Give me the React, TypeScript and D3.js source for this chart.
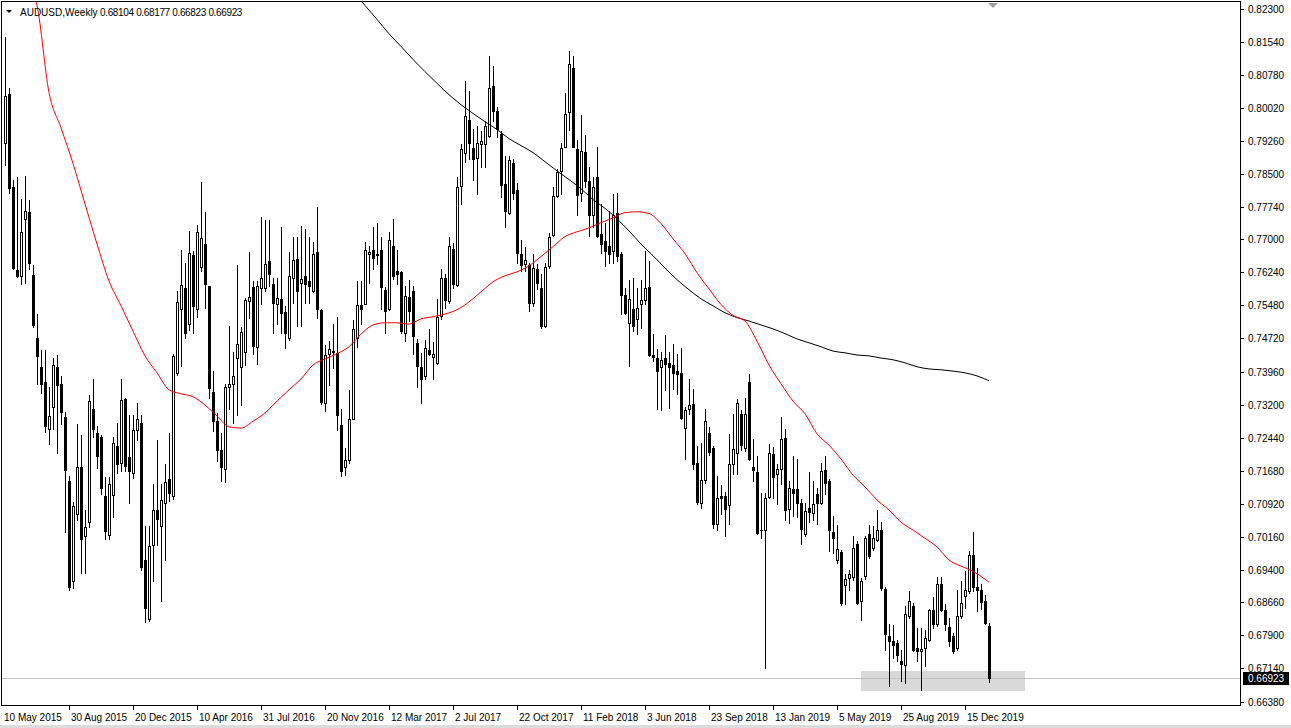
import React from "react";
import * as d3 from "d3";

const symbolTitle = "AUDUSD,Weekly";
const lastQuote = ["0.68104", "0.68177", "0.66823", "0.66923"];
const bidPrice = 0.66923;
const firstWeek = "2015-05-10";

// weekly candles: [open, high, low, close]
const weeks2015 = [
  [0.7921, 0.8165, 0.787, 0.8028], [0.8033, 0.8048, 0.7806, 0.7817], [0.782, 0.7837, 0.7632, 0.7634],
  [0.763, 0.7844, 0.7613, 0.7615], [0.7615, 0.7793, 0.7597, 0.7716], [0.7747, 0.7846, 0.7599, 0.7764],
  [0.7762, 0.7791, 0.7632, 0.7646], [0.7617, 0.7641, 0.7499, 0.7502], [0.7472, 0.7529, 0.7368, 0.7432],
  [0.7406, 0.7446, 0.7346, 0.7368], [0.7373, 0.7446, 0.7258, 0.7272], [0.7263, 0.7361, 0.7229, 0.7294],
  [0.7314, 0.7426, 0.7263, 0.7412], [0.7406, 0.7434, 0.721, 0.7364], [0.7368, 0.7386, 0.7276, 0.7302],
  [0.7291, 0.7302, 0.7027, 0.717], [0.7144, 0.7157, 0.6895, 0.69], [0.6915, 0.7096, 0.6898, 0.7087],
  [0.7069, 0.7276, 0.7056, 0.7177], [0.7177, 0.725, 0.6933, 0.7012], [0.7018, 0.7078, 0.6933, 0.7038],
  [0.705, 0.7342, 0.7038, 0.7329], [0.7311, 0.7379, 0.7245, 0.7263], [0.7254, 0.7272, 0.7175, 0.7201],
  [0.7245, 0.725, 0.7115, 0.7129], [0.7109, 0.7153, 0.7012, 0.703], [0.7021, 0.7153, 0.7012, 0.7138],
  [0.7113, 0.7245, 0.7062, 0.7231], [0.7225, 0.7277, 0.7163, 0.7184], [0.7186, 0.738, 0.7167, 0.733],
  [0.7334, 0.7336, 0.7167, 0.7179], [0.7199, 0.7297, 0.7093, 0.7167], [0.7163, 0.7297, 0.7152, 0.7261],
  [0.7261, 0.7323, 0.7238, 0.7288],
];
const weeks2016 = [
  [0.7277, 0.7297, 0.694, 0.6948], [0.6964, 0.7042, 0.682, 0.6853], [0.6827, 0.7042, 0.6822, 0.6995],
  [0.6998, 0.7138, 0.6914, 0.7077], [0.7077, 0.7238, 0.6998, 0.7058], [0.7041, 0.7138, 0.6868, 0.71],
  [0.7093, 0.7183, 0.6963, 0.7142], [0.7148, 0.7255, 0.7098, 0.7117], [0.7111, 0.7437, 0.7104, 0.7432],
  [0.7393, 0.758, 0.7388, 0.7556], [0.7539, 0.7676, 0.7409, 0.7594], [0.7589, 0.7646, 0.7472, 0.7485],
  [0.7505, 0.7719, 0.7492, 0.7669], [0.7664, 0.7673, 0.7485, 0.7547], [0.7539, 0.7733, 0.7522, 0.7716],
  [0.7637, 0.7831, 0.7627, 0.7702], [0.769, 0.7762, 0.7543, 0.7598], [0.7593, 0.7593, 0.7336, 0.7359],
  [0.7349, 0.7397, 0.7259, 0.7282], [0.7282, 0.73, 0.719, 0.7215], [0.7215, 0.7255, 0.7145, 0.7176],
  [0.7171, 0.7367, 0.7143, 0.736], [0.736, 0.7501, 0.7311, 0.7368], [0.7368, 0.7441, 0.7278, 0.7386],
  [0.7426, 0.7641, 0.7296, 0.7459], [0.7407, 0.7498, 0.732, 0.7487], [0.7442, 0.7564, 0.7411, 0.7561],
  [0.7557, 0.7671, 0.7518, 0.7568], [0.7591, 0.7604, 0.7437, 0.7455], [0.7453, 0.7603, 0.7413, 0.7593],
  [0.7589, 0.7752, 0.7551, 0.761], [0.7589, 0.7744, 0.758, 0.7643], [0.765, 0.7744, 0.7593, 0.762],
  [0.7597, 0.761, 0.7485, 0.7554], [0.7552, 0.761, 0.7505, 0.7564], [0.7562, 0.7728, 0.7485, 0.7531],
  [0.7533, 0.7546, 0.745, 0.7485], [0.7472, 0.7671, 0.7468, 0.7616], [0.761, 0.7705, 0.7554, 0.7652],
  [0.7654, 0.7705, 0.7501, 0.7581], [0.76, 0.7731, 0.7501, 0.7608], [0.7616, 0.7723, 0.7554, 0.7598],
  [0.7603, 0.7705, 0.7554, 0.7593], [0.7581, 0.7694, 0.7578, 0.7666], [0.7671, 0.7775, 0.752, 0.7539],
  [0.7537, 0.754, 0.7321, 0.7327], [0.7323, 0.7457, 0.7305, 0.7433], [0.7436, 0.7466, 0.7365, 0.7447],
  [0.744, 0.7505, 0.7405, 0.7443], [0.7439, 0.7521, 0.7261, 0.7296], [0.7274, 0.7309, 0.7156, 0.7167],
  [0.7176, 0.7221, 0.7158, 0.7192],
];
const weeks2017 = [
  [0.7192, 0.7353, 0.7186, 0.7288], [0.7288, 0.7514, 0.7286, 0.7493], [0.7474, 0.7604, 0.7452, 0.7549],
  [0.7549, 0.7604, 0.7505, 0.7539], [0.7552, 0.7693, 0.7551, 0.7675], [0.7667, 0.7685, 0.76, 0.7671],
  [0.7675, 0.7728, 0.7631, 0.7656], [0.7667, 0.7738, 0.7643, 0.7663], [0.7675, 0.7704, 0.7539, 0.759],
  [0.7583, 0.759, 0.7485, 0.7534], [0.7539, 0.7716, 0.7537, 0.7698], [0.7685, 0.7746, 0.7608, 0.7616],
  [0.7627, 0.7675, 0.7598, 0.7621], [0.7625, 0.7627, 0.7485, 0.7489], [0.7485, 0.7593, 0.7466, 0.7569],
  [0.7568, 0.7606, 0.7512, 0.7534], [0.7581, 0.7593, 0.7436, 0.7478], [0.7462, 0.747, 0.7361, 0.7409],
  [0.7407, 0.7439, 0.7324, 0.738], [0.7386, 0.7468, 0.7378, 0.7449], [0.7445, 0.7493, 0.7435, 0.7437],
  [0.743, 0.7465, 0.7378, 0.7437], [0.7416, 0.7562, 0.7413, 0.7522], [0.7524, 0.7631, 0.7516, 0.7612],
  [0.761, 0.7621, 0.7543, 0.756], [0.7558, 0.7705, 0.7554, 0.7685], [0.7677, 0.7692, 0.7589, 0.7597],
  [0.7594, 0.7842, 0.7593, 0.782], [0.7823, 0.7919, 0.7781, 0.7907], [0.7897, 0.8063, 0.7877, 0.7982],
  [0.7974, 0.804, 0.7884, 0.792], [0.7909, 0.7953, 0.7836, 0.7884], [0.7886, 0.7961, 0.7804, 0.7922],
  [0.7919, 0.7949, 0.7865, 0.7926], [0.7919, 0.7972, 0.7865, 0.7961], [0.7938, 0.8122, 0.7934, 0.8048],
  [0.8053, 0.8099, 0.7972, 0.7995], [0.7995, 0.8003, 0.7934, 0.7953], [0.7942, 0.7948, 0.7796, 0.7825],
  [0.7827, 0.7892, 0.7729, 0.7765], [0.7761, 0.7892, 0.7758, 0.7882], [0.7876, 0.7884, 0.7792, 0.7807],
  [0.7813, 0.783, 0.7646, 0.7669], [0.7666, 0.7698, 0.7627, 0.7641], [0.7644, 0.7681, 0.7627, 0.7652],
  [0.7641, 0.7646, 0.7534, 0.7554], [0.7554, 0.7666, 0.7547, 0.7635], [0.7631, 0.7644, 0.7585, 0.76],
  [0.7589, 0.762, 0.7497, 0.7501], [0.7501, 0.7646, 0.7498, 0.7636], [0.7639, 0.7715, 0.7635, 0.7704],
  [0.771, 0.7819, 0.7708, 0.78], [0.78, 0.7861, 0.7796, 0.7854],
];
const weeks2018 = [
  [0.7857, 0.7922, 0.7804, 0.7909], [0.7912, 0.8035, 0.7911, 0.7988], [0.7992, 0.8133, 0.7951, 0.8103],
  [0.8094, 0.8122, 0.7911, 0.7912], [0.7907, 0.7928, 0.7756, 0.7802], [0.7807, 0.7986, 0.7788, 0.7903],
  [0.7901, 0.794, 0.7819, 0.7834], [0.7834, 0.7865, 0.7708, 0.7756], [0.7756, 0.7843, 0.7727, 0.782],
  [0.7843, 0.7912, 0.7704, 0.7708], [0.7713, 0.7782, 0.7669, 0.7689], [0.7696, 0.7738, 0.7639, 0.7673],
  [0.7685, 0.7764, 0.7646, 0.7666], [0.7672, 0.7805, 0.7646, 0.7756], [0.7761, 0.7807, 0.765, 0.7662],
  [0.7666, 0.767, 0.7528, 0.7572], [0.7572, 0.7589, 0.7528, 0.7531], [0.7508, 0.7606, 0.7409, 0.7562],
  [0.7539, 0.7612, 0.7489, 0.7501], [0.7516, 0.7589, 0.7482, 0.7543], [0.7551, 0.7606, 0.7497, 0.756],
  [0.756, 0.7673, 0.7551, 0.7589], [0.759, 0.765, 0.7432, 0.7435], [0.7435, 0.7482, 0.742, 0.7429],
  [0.7428, 0.7447, 0.731, 0.7397], [0.7407, 0.744, 0.7307, 0.7422], [0.7427, 0.748, 0.7353, 0.7414],
  [0.7416, 0.744, 0.7313, 0.7407], [0.7411, 0.7459, 0.7355, 0.7393], [0.7397, 0.7437, 0.7345, 0.7391],
  [0.7393, 0.7449, 0.7286, 0.729], [0.7267, 0.7314, 0.7196, 0.7307], [0.7309, 0.7378, 0.7298, 0.7319],
  [0.7321, 0.7357, 0.7171, 0.7183], [0.7185, 0.7225, 0.7091, 0.7097], [0.7094, 0.7232, 0.7083, 0.7146],
  [0.7146, 0.7311, 0.714, 0.7282], [0.7255, 0.7268, 0.7204, 0.7212], [0.7221, 0.7225, 0.7037, 0.7045],
  [0.7046, 0.7156, 0.7033, 0.7106], [0.711, 0.7135, 0.7068, 0.7106], [0.711, 0.712, 0.7018, 0.7081],
  [0.7089, 0.7253, 0.7046, 0.7184], [0.7184, 0.7298, 0.7161, 0.7217], [0.7209, 0.7332, 0.716, 0.7324],
  [0.7299, 0.7307, 0.7215, 0.7227], [0.7221, 0.7336, 0.7213, 0.7299], [0.7373, 0.7391, 0.7192, 0.7194],
  [0.7177, 0.7242, 0.7144, 0.7169], [0.7166, 0.7202, 0.7022, 0.7025], [0.7033, 0.7117, 0.7014, 0.7031],
  [0.7033, 0.7117, 0.6715, 0.7106],
];
const weeks2019 = [
  [0.7107, 0.723, 0.7106, 0.7209], [0.7207, 0.7222, 0.7106, 0.7153], [0.716, 0.7183, 0.7091, 0.7171],
  [0.7171, 0.7292, 0.7137, 0.724], [0.7243, 0.7263, 0.7056, 0.7079], [0.7081, 0.7144, 0.7048, 0.7129],
  [0.7127, 0.7202, 0.7064, 0.7117], [0.7127, 0.7194, 0.7062, 0.7095], [0.7095, 0.7104, 0.6999, 0.7035],
  [0.7022, 0.7094, 0.7018, 0.7075], [0.7083, 0.7166, 0.7051, 0.7074], [0.7072, 0.7144, 0.7054, 0.7092],
  [0.7114, 0.7129, 0.7046, 0.7094], [0.7094, 0.7186, 0.7091, 0.7167], [0.7169, 0.7202, 0.7114, 0.7141],
  [0.7144, 0.715, 0.6983, 0.7033], [0.7028, 0.7064, 0.6979, 0.7014], [0.6962, 0.7043, 0.6956, 0.6989],
  [0.6982, 0.6985, 0.686, 0.6864], [0.6905, 0.6931, 0.6861, 0.692], [0.6922, 0.6939, 0.6893, 0.6931],
  [0.6923, 0.7018, 0.6916, 0.6991], [0.7, 0.7006, 0.6861, 0.6864], [0.6868, 0.6922, 0.6826, 0.6914],
  [0.6926, 0.7018, 0.692, 0.7014], [0.7023, 0.7043, 0.6968, 0.6972], [0.6991, 0.7041, 0.6987, 0.7014],
  [0.701, 0.7077, 0.7006, 0.7033], [0.7033, 0.7051, 0.6895, 0.6899], [0.6897, 0.69, 0.6757, 0.6792],
  [0.6788, 0.6816, 0.6673, 0.6776], [0.6776, 0.6813, 0.6738, 0.6767], [0.6772, 0.678, 0.673, 0.6744],
  [0.6732, 0.6757, 0.6684, 0.6724], [0.6721, 0.6857, 0.668, 0.6838], [0.6834, 0.6891, 0.683, 0.687],
  [0.6857, 0.6865, 0.6753, 0.6757], [0.6762, 0.6807, 0.6732, 0.6755], [0.6755, 0.6807, 0.6665, 0.6759],
  [0.6761, 0.6803, 0.6719, 0.6784], [0.678, 0.6851, 0.6776, 0.6849], [0.6849, 0.6877, 0.6807, 0.6815],
  [0.6815, 0.6924, 0.6811, 0.6908], [0.6908, 0.6924, 0.6845, 0.6849], [0.6849, 0.6861, 0.6803, 0.6815],
  [0.6808, 0.683, 0.6765, 0.6776], [0.6788, 0.6795, 0.6749, 0.6753], [0.6761, 0.6895, 0.6757, 0.6834],
  [0.6834, 0.6914, 0.683, 0.6864], [0.688, 0.6937, 0.6853, 0.6893], [0.6891, 0.6983, 0.6888, 0.6974],
  [0.6974, 0.7028, 0.6891, 0.69],
];
const weeks2020 = [
  [0.69, 0.6945, 0.6845, 0.6893], [0.6893, 0.6907, 0.685, 0.6867], [0.6868, 0.6883, 0.6816, 0.6818],
  [0.68104, 0.68177, 0.66823, 0.66923],
];

// moving averages: [bar index, value]
const maRed = [
  [7, 0.8271], [8, 0.8237], [11, 0.8037], [14, 0.7956], [17, 0.7874], [20, 0.7781], [23, 0.7689],
  [26, 0.7604], [29, 0.7547], [32, 0.7489], [35, 0.7432], [38, 0.7393], [41, 0.7354], [44, 0.7345],
  [47, 0.7338], [50, 0.7319], [53, 0.7294], [56, 0.7269], [59, 0.7266], [62, 0.7282], [65, 0.7301],
  [68, 0.7328], [71, 0.7354], [74, 0.7379], [77, 0.7411], [80, 0.7425], [83, 0.7437], [86, 0.7453],
  [89, 0.7482], [92, 0.7503], [95, 0.7508], [98, 0.7508], [101, 0.7505], [104, 0.7517], [107, 0.7522],
  [110, 0.7528], [113, 0.7538], [116, 0.7556], [119, 0.7579], [122, 0.7602], [125, 0.7616], [128, 0.7625],
  [131, 0.7639], [134, 0.766], [137, 0.7683], [140, 0.7706], [143, 0.7717], [146, 0.7726], [149, 0.7738],
  [152, 0.7749], [155, 0.7761], [158, 0.7763], [161, 0.7759], [164, 0.7736], [167, 0.7701], [170, 0.7667],
  [173, 0.7623], [176, 0.7586], [179, 0.755], [182, 0.7525], [185, 0.7512], [188, 0.7466], [191, 0.7411],
  [194, 0.7368], [197, 0.7328], [200, 0.7299], [203, 0.7253], [206, 0.7227], [209, 0.7195], [212, 0.7158],
  [215, 0.7131], [218, 0.7101], [221, 0.7078], [224, 0.705], [227, 0.7032], [230, 0.7013], [233, 0.6993],
  [236, 0.6963], [239, 0.6949], [242, 0.6937], [245, 0.6919], [246, 0.6912],
];
const maBlack = [
  [88, 0.826], [90, 0.8237], [93, 0.8205], [96, 0.8172], [99, 0.8143], [102, 0.8113], [105, 0.8085],
  [108, 0.8058], [111, 0.8032], [114, 0.8009], [117, 0.7989], [120, 0.797], [123, 0.7952], [126, 0.7931],
  [129, 0.7915], [132, 0.7899], [135, 0.7878], [138, 0.7857], [141, 0.7837], [144, 0.7816], [147, 0.7791],
  [150, 0.7771], [153, 0.7747], [156, 0.7719], [159, 0.7689], [162, 0.7662], [165, 0.7634], [168, 0.7607],
  [171, 0.7584], [174, 0.7563], [177, 0.7547], [180, 0.7531], [183, 0.752], [186, 0.7512], [189, 0.7503],
  [192, 0.7494], [195, 0.7483], [198, 0.7471], [201, 0.7462], [204, 0.7453], [207, 0.7443], [210, 0.7439],
  [213, 0.7434], [216, 0.7432], [219, 0.7427], [222, 0.7423], [225, 0.7416], [228, 0.7407], [231, 0.7402],
  [234, 0.74], [237, 0.7397], [240, 0.7393], [243, 0.7386], [246, 0.7375],
];

const priceTicks = [
  "0.82300", "0.81540", "0.80780", "0.80020", "0.79260", "0.78500", "0.77740", "0.77000", "0.76240",
  "0.75480", "0.74720", "0.73960", "0.73200", "0.72440", "0.71680", "0.70920", "0.70160", "0.69400",
  "0.68660", "0.67900", "0.67140", "0.66380",
];
const dateTicks = [
  "2015-05-10", "2015-08-30", "2015-12-20", "2016-04-10", "2016-07-31", "2016-11-20", "2017-03-12",
  "2017-07-02", "2017-10-22", "2018-02-11", "2018-06-03", "2018-09-23", "2019-01-13", "2019-05-05",
  "2019-08-25", "2019-12-15",
];
const zoneBars = [214, 255];
const zonePrices = [0.6708, 0.6663];

const FONT = "'Liberation Sans', Arial, sans-serif";

export default function App() {
  const candles = [...weeks2015, ...weeks2016, ...weeks2017, ...weeks2018, ...weeks2019, ...weeks2020];
  const W = 1291, H = 728;
  const L = 2, T = 2, R = 1240, B = 705;
  const xs = d3.scaleLinear().domain([0, candles.length - 1]).range([5, 989]);
  const ys = d3.scaleLinear().domain([0.6638, 0.823]).range([701.5, 8.5]);
  const px = (i: number) => Math.round(xs(i));
  const py = (v: number) => Math.round(ys(v));
  const t0 = new Date(firstWeek).getTime();
  const weekIdx = (s: string) => Math.round((new Date(s).getTime() - t0) / (7 * 864e5));
  const fmt = d3.utcFormat("%-d %b %Y");

  const line = d3
    .line<number[]>()
    .x((d) => xs(d[0]))
    .y((d) => ys(d[1]))
    .curve(d3.curveMonotoneX);

  const bidY = py(bidPrice) + 0.5;

  return (
    <svg
      width={W}
      height={H}
      style={{ position: "absolute", left: 0, top: 0, background: "#fff" }}
      fontFamily={FONT}
    >
      <defs>
        <clipPath id="plot">
          <rect x={L} y={T} width={R - L} height={B - T} />
        </clipPath>
      </defs>
      <rect x={0} y={0} width={W} height={H} fill="#fff" />
      <rect x={0} y={H - 3} width={W} height={3} fill="#dcdcdc" />

      <g clipPath="url(#plot)">
        {/* zone rectangle */}
        <rect
          x={px(zoneBars[0])}
          y={py(zonePrices[0])}
          width={px(zoneBars[1]) - px(zoneBars[0])}
          height={py(zonePrices[1]) - py(zonePrices[0])}
          fill="#d9d9d9"
        />
        {/* bid line */}
        <line x1={L} x2={R} y1={bidY} y2={bidY} stroke="#c0c0c0" strokeWidth={1} />

        {/* candles */}
        <g shapeRendering="crispEdges">
          {candles.map((c, i) => {
            const [o, h, l, cl] = c;
            const cx = px(i);
            const yh = py(h), yl = py(l);
            const yt = py(Math.max(o, cl)), yb = py(Math.min(o, cl));
            const bull = cl >= o;
            return (
              <g key={i}>
                <line x1={cx + 0.5} x2={cx + 0.5} y1={yh} y2={yl + 1} stroke="#000" strokeWidth={1} />
                {bull ? (
                  yb - yt >= 1 ? (
                    <rect x={cx - 0.5} y={yt + 0.5} width={2} height={yb - yt} fill="#fff" stroke="#000" strokeWidth={1} />
                  ) : (
                    <rect x={cx - 1} y={yt} width={3} height={1} fill="#000" />
                  )
                ) : (
                  <rect x={cx - 1} y={yt} width={3} height={Math.max(yb - yt + 1, 1)} fill="#000" />
                )}
              </g>
            );
          })}
        </g>

        {/* moving averages */}
        <path d={line(maBlack as any) || ""} fill="none" stroke="#000" strokeWidth={1} />
        <path d={line(maRed as any) || ""} fill="none" stroke="#ff0000" strokeWidth={1} />
      </g>

      {/* frame */}
      <rect x={L - 0.5} y={T - 0.5} width={R - L + 1} height={B - T + 1} fill="none" stroke="#000" strokeWidth={1} shapeRendering="crispEdges" />

      {/* shift marker */}
      <path d={`M${px(246) - 1},${T + 1}L${px(246) + 9},${T + 1}L${px(246) + 4},${T + 6}Z`} fill="#a0a0a0" />

      {/* header */}
      <path d="M6,10L12,10L9,13Z" fill="#000" />
      <text x={20} y={16} fontSize={10} fill="#000">
        {symbolTitle}
      </text>
      <text x={100} y={16} fontSize={10} fill="#000" letterSpacing={-0.35}>
        {lastQuote.join(" ")}
      </text>

      {/* price axis */}
      <g shapeRendering="crispEdges">
        {priceTicks.map((t) => {
          const y = py(+t) + 0.5;
          return (
            <g key={t}>
              <line x1={R} x2={R + 4} y1={y} y2={y} stroke="#000" />
              <text x={1248} y={y + 3.5} fontSize={10} fill="#000">
                {t}
              </text>
            </g>
          );
        })}
        <rect x={1243} y={py(bidPrice) - 6} width={46} height={13} fill="#000" />
        <text x={1248} y={py(bidPrice) + 4} fontSize={10} fill="#fff">
          {bidPrice.toFixed(5)}
        </text>
      </g>

      {/* time axis */}
      <g shapeRendering="crispEdges">
        {dateTicks.map((d, i) => {
          const k = weekIdx(d);
          const x = px(k);
          return (
            <g key={d}>
              {i > 0 && <line x1={x + 0.5} x2={x + 0.5} y1={B} y2={B + 5} stroke="#000" />}
              <text x={i === 0 ? x - 1 : x + 2} y={721} fontSize={10} fill="#000">
                {fmt(new Date(d))}
              </text>
            </g>
          );
        })}
      </g>
    </svg>
  );
}
